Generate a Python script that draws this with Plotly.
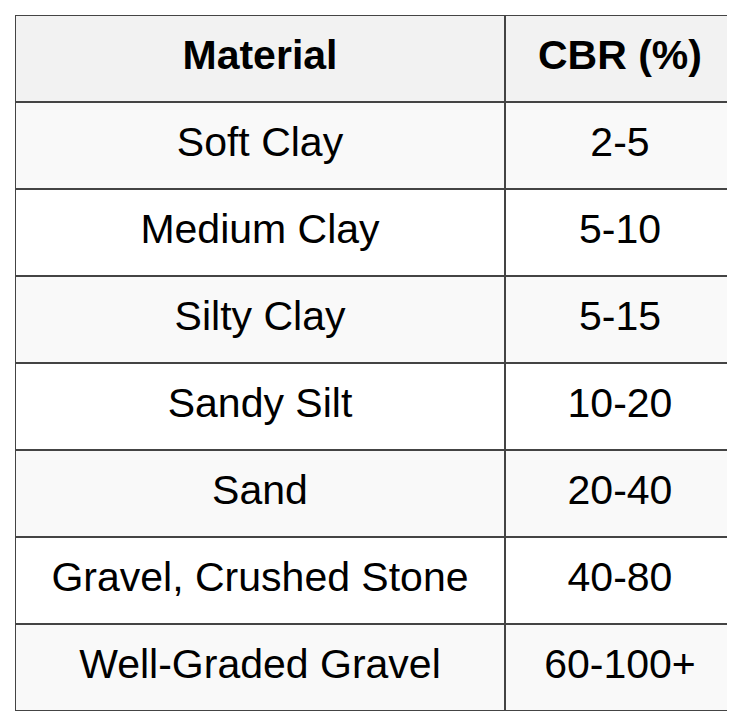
import plotly.graph_objects as go

headers = ["<b>Material</b>", "<b>CBR (%)</b>"]
materials = ["Soft Clay", "Medium Clay", "Silty Clay", "Sandy Silt", "Sand",
             "Gravel, Crushed Stone", "Well-Graded Gravel"]
cbr = ["2-5", "5-10", "5-15", "10-20", "20-40", "40-80", "60-100+"]

# column boundaries in axis units
col_edges = [0, 490, 720]
col_centers = [(col_edges[i] + col_edges[i + 1]) / 2 for i in range(2)]
n_rows = len(materials) + 1

fills = ["#f2f2f2"] + ["#f9f9f9" if i % 2 == 0 else "#ffffff" for i in range(len(materials))]

fig = go.Figure()

shapes = []
for r in range(n_rows):
    shapes.append(dict(type="rect", xref="x", yref="y", x0=0, x1=720, y0=r, y1=r + 1,
                       fillcolor=fills[r], line=dict(width=0), layer="below"))
# grid lines
for r in range(n_rows + 1):
    shapes.append(dict(type="line", xref="x", yref="y", x0=0, x1=720, y0=r, y1=r,
                       line=dict(color="#444444", width=2)))
for xe in col_edges:
    shapes.append(dict(type="line", xref="x", yref="y", x0=xe, x1=xe, y0=0, y1=n_rows,
                       line=dict(color="#444444", width=2)))

texts = [headers[0]] + materials + [headers[1]] + cbr
xs = [col_centers[0]] * n_rows + [col_centers[1]] * n_rows
ys = [r + 0.5 for r in range(n_rows)] * 2

fig.add_trace(go.Scatter(
    x=xs, y=ys, text=texts, mode="text",
    textfont=dict(family="Liberation Sans, Arial", size=41, color="black"),
    hoverinfo="skip", showlegend=False,
))

fig.update_xaxes(range=[0, 720], visible=False, fixedrange=True)
fig.update_yaxes(range=[n_rows, 0], visible=False, fixedrange=True)
fig.update_layout(
    width=735,
    height=711,
    margin=dict(l=7, r=8, t=7, b=8),
    paper_bgcolor="white",
    plot_bgcolor="white",
    shapes=shapes,
)

fig.write_html("out.html")
